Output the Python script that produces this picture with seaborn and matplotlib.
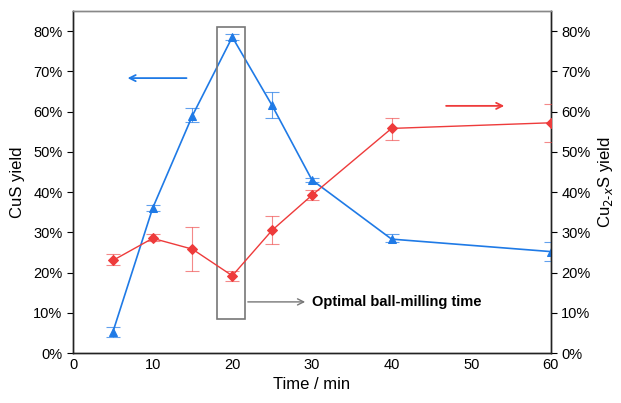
import matplotlib
matplotlib.use("Agg")
import matplotlib.pyplot as plt
import seaborn as sns
import pandas as pd

# milling time (min)
time_min = [5, 10, 15, 20, 25, 30, 40, 60]

# CuS yield (%) with error bar bounds
cus_yield = [5.2, 36.0, 59.0, 78.5, 61.5, 43.0, 28.3, 25.2]
cus_low = [4.0, 35.3, 57.3, 77.8, 58.5, 42.5, 27.5, 22.8]
cus_high = [6.5, 36.8, 60.8, 79.2, 64.8, 43.6, 29.5, 27.5]

# Cu2-xS yield (%) with error bar bounds
cu2s_yield = [23.0, 28.5, 25.8, 19.2, 30.5, 39.2, 55.8, 57.2]
cu2s_low = [21.8, 27.8, 20.5, 18.0, 27.0, 38.0, 53.0, 52.5]
cu2s_high = [24.5, 29.5, 31.3, 20.5, 34.0, 40.5, 58.5, 61.8]

pct_ticks = [0, 10, 20, 30, 40, 50, 60, 70, 80]
pct_labels = [f"{t}%" for t in pct_ticks]

BLUE = "#1f7ae6"
RED = "#ee3b3b"

sns.set_style("white")
plt.rcParams["font.family"] = ["Liberation Sans", "DejaVu Sans"]
plt.rcParams["font.size"] = 11
plt.rcParams["text.color"] = "black"
plt.rcParams["axes.labelcolor"] = "black"
plt.rcParams["xtick.color"] = "black"
plt.rcParams["ytick.color"] = "black"

df = pd.DataFrame({"time": time_min, "cus": cus_yield, "cu2s": cu2s_yield})

fig = plt.figure(figsize=(6.21, 4.03), dpi=100)
ax = fig.add_axes([0.1176, 0.124, 0.7694, 0.849])
ax2 = ax.twinx()

# CuS (left axis)
sns.lineplot(data=df, x="time", y="cus", ax=ax, color=BLUE, lw=1.2,
             marker="^", markersize=6, markeredgecolor=BLUE, zorder=3)
ax.errorbar(time_min, cus_yield,
            yerr=[[c - l for c, l in zip(cus_yield, cus_low)],
                  [h - c for c, h in zip(cus_yield, cus_high)]],
            fmt="none", ecolor=BLUE, elinewidth=0.8, capsize=5, capthick=0.8,
            alpha=0.7, zorder=3)

# Cu2-xS (right axis)
sns.lineplot(data=df, x="time", y="cu2s", ax=ax2, color=RED, lw=1.0,
             marker="D", markersize=5.5, markeredgecolor=RED, zorder=3)
ax2.errorbar(time_min, cu2s_yield,
             yerr=[[c - l for c, l in zip(cu2s_yield, cu2s_low)],
                   [h - c for c, h in zip(cu2s_yield, cu2s_high)]],
             fmt="none", ecolor=RED, elinewidth=0.8, capsize=5, capthick=0.8,
             alpha=0.6, zorder=3)

for a in (ax, ax2):
    a.set_ylim(0, 85)
    a.set_yticks(pct_ticks)
    a.set_yticklabels(pct_labels, fontsize=10.5)
ax.set_xlim(0, 60)
ax.set_xticks([0, 10, 20, 30, 40, 50, 60])
ax.tick_params(axis="x", direction="in", length=4, labelsize=10.5)
ax.tick_params(axis="y", direction="out", length=4)
ax2.tick_params(axis="y", direction="out", length=4)

ax.set_xlabel("Time / min", fontsize=12)
ax.set_ylabel("CuS yield", fontsize=12, labelpad=6)
ax2.set_ylabel("Cu$_{2\\text{-}x}$S yield", fontsize=12)

for a in (ax, ax2):
    for s in a.spines.values():
        s.set_color("#222222")
        s.set_linewidth(1.0)
    a.spines["top"].set_color("#888888")

# optimal time box
ax.add_patch(plt.Rectangle((18.1, 8.4), 3.5, 72.7, fill=False,
                           edgecolor="#777777", lw=1.2, zorder=4))
ax.annotate("", xy=(29.5, 12.7), xytext=(21.6, 12.7),
            arrowprops=dict(arrowstyle="->", color="#777777", lw=1.0))
ax.text(30.0, 12.7, "Optimal ball-milling time", fontsize=10.5,
        fontweight="bold", va="center", ha="left")

# axis pointer arrows
ax.annotate("", xy=(6.5, 68.3), xytext=(14.6, 68.3),
            arrowprops=dict(arrowstyle="->", color=BLUE, lw=1.3))
ax.annotate("", xy=(54.5, 61.4), xytext=(46.5, 61.4),
            arrowprops=dict(arrowstyle="->", color=RED, lw=1.3))

fig.savefig("out.png", dpi=100)
